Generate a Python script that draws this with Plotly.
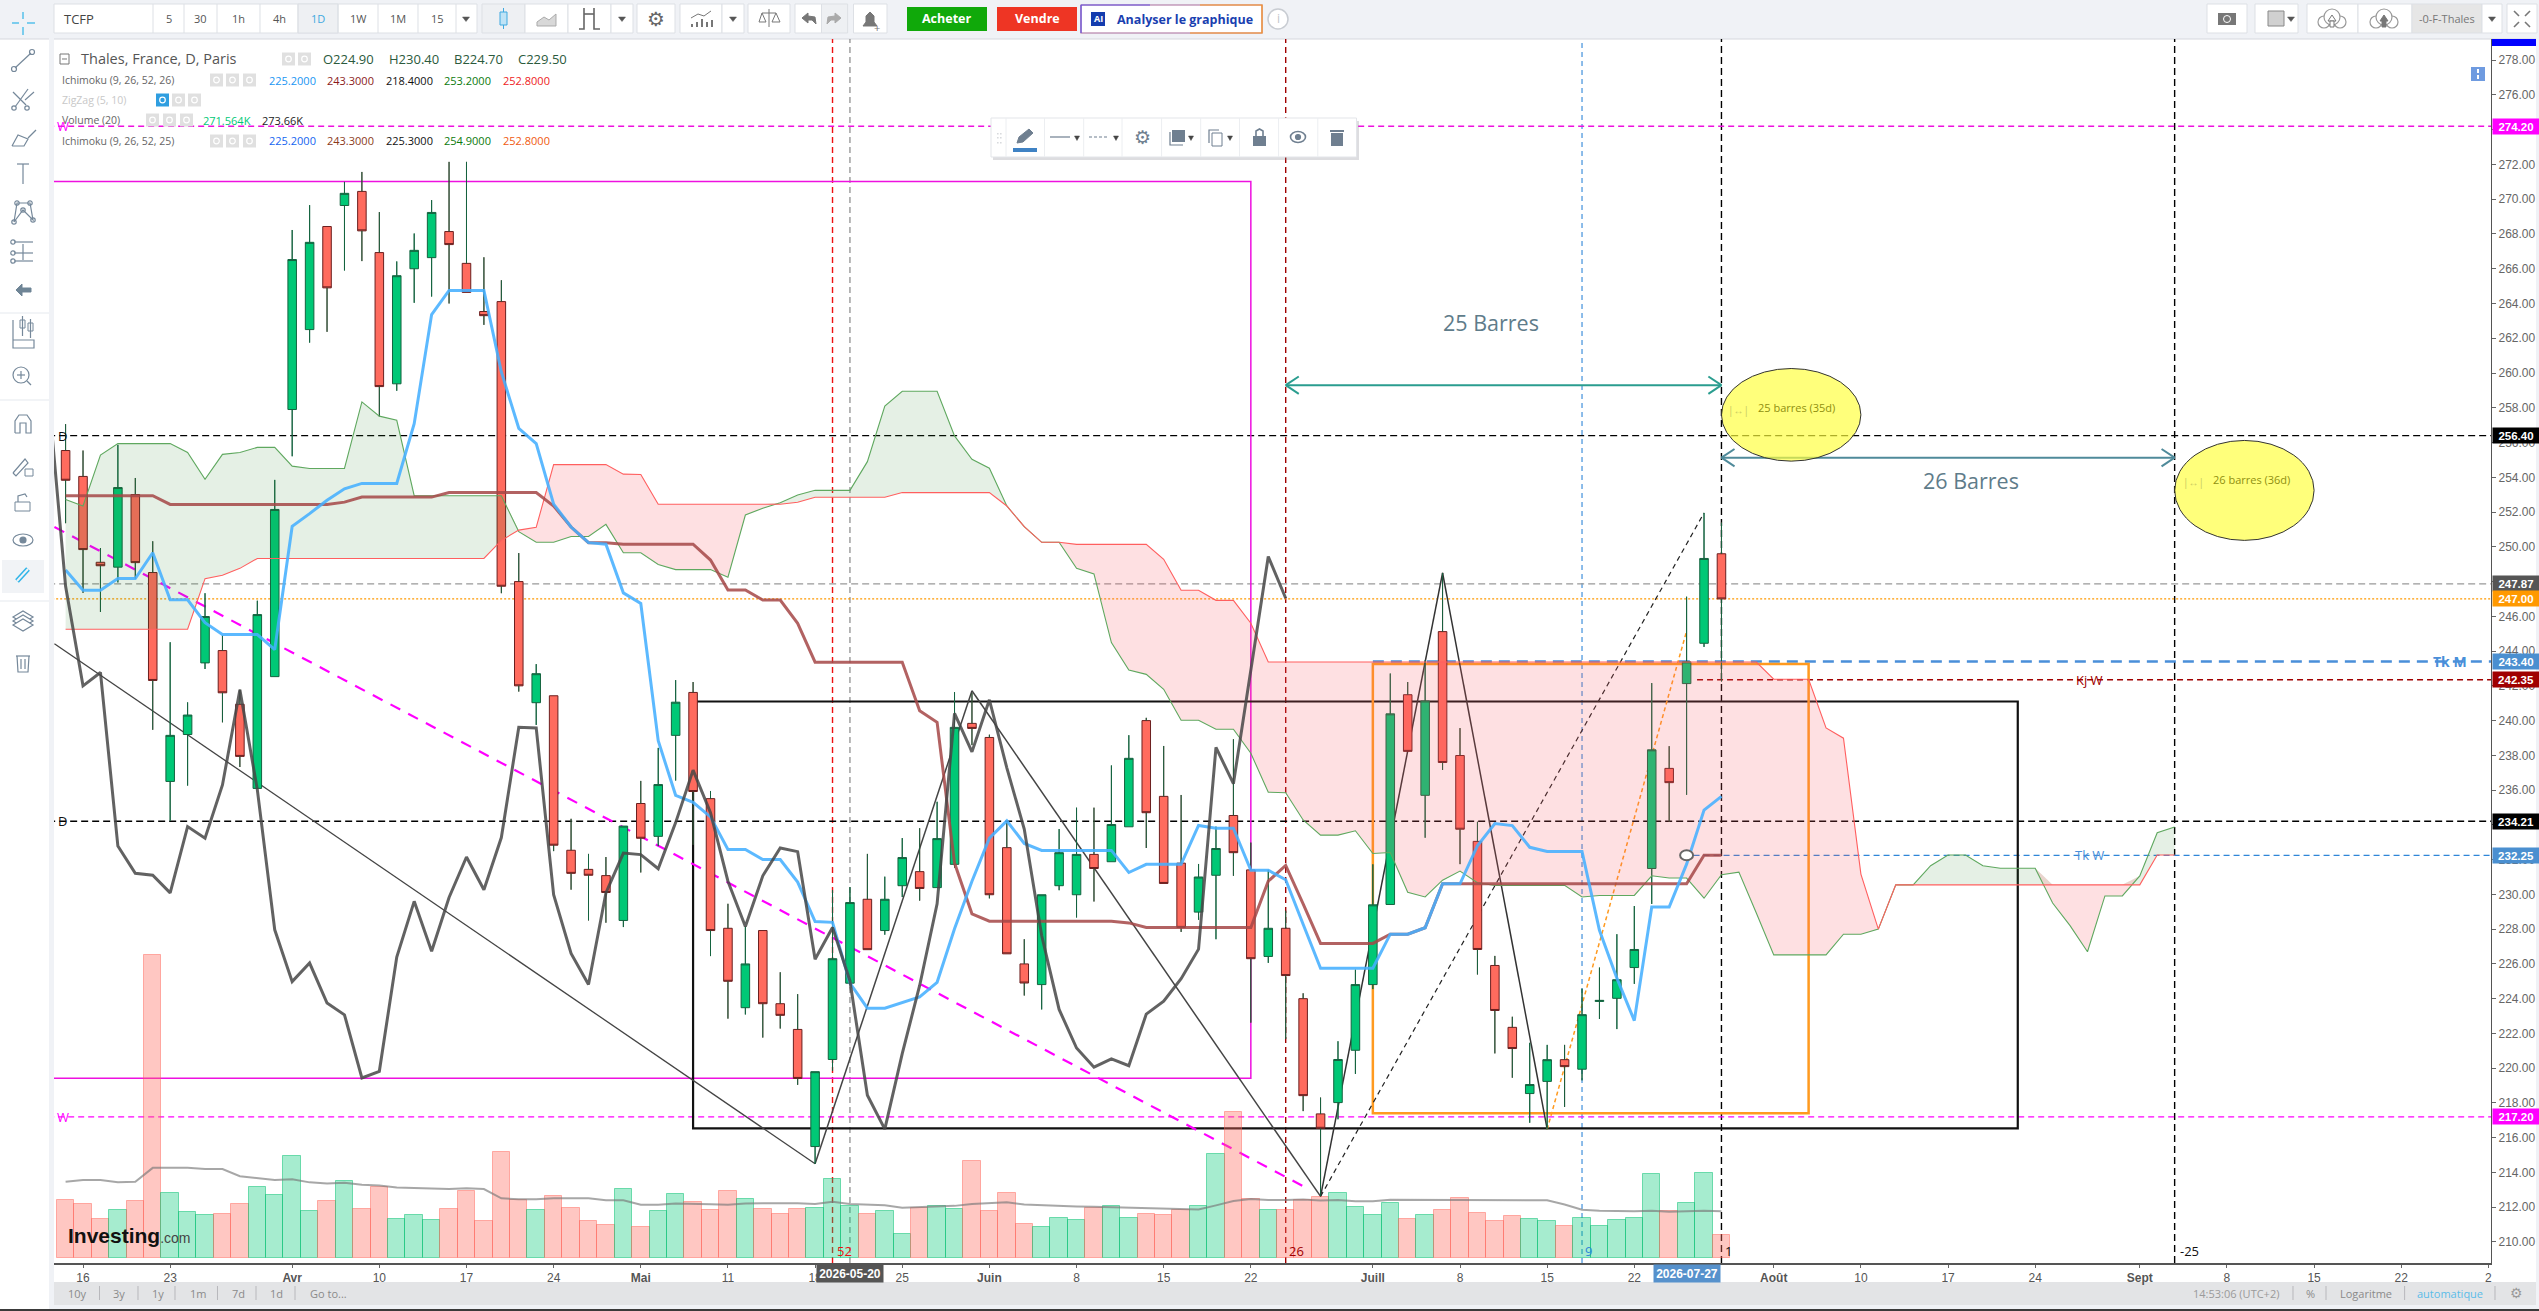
#!/usr/bin/env python3
# -*- coding: utf-8 -*-
import plotly.graph_objects as go

W = 2539
H = 1311
FONT = "Open Sans"
AXFONT = "Liberation Sans"

# ---- daily candles, one per session, from 2026-03-13
opens = [255.54, 254.05, 249.11, 248.83, 253.01, 248.52, 236.5, 239.2, 243.32, 244.03, 240.94, 236.1,
         242.53, 257.9, 262.5, 268.43, 269.64, 270.45, 266.93, 259.38, 266.0, 266.64, 268.14, 266.31,
         263.54, 264.11, 248.0, 241.03, 241.43, 232.54, 231.44, 231.08, 228.5, 235.23, 233.34, 239.15,
         241.62, 235.51, 228.05, 223.48, 227.92, 223.71, 222.23, 215.49, 220.5, 224.89, 229.72, 227.92,
         230.5, 231.31, 230.39, 231.73, 239.84, 239.03, 232.69, 226.0, 224.81, 230.5, 229.98, 232.3,
         231.88, 233.89, 240.0, 235.64, 231.8, 228.98, 231.1, 234.54, 231.41, 226.43, 228.05, 224.0,
         217.37, 218.02, 221.03, 224.81, 229.42, 241.49, 235.7, 245.12, 237.99, 233.05, 225.91, 222.35,
         218.54, 219.24, 220.49, 219.94, 223.84, 224.02, 225.79, 231.49, 237.25, 242.13, 244.45, 249.6]
highs = [257.06, 255.54, 249.93, 255.87, 253.96, 250.32, 244.51, 241.05, 247.33, 244.91, 241.78, 246.9,
         253.85, 268.23, 269.66, 268.43, 271.0, 271.57, 269.26, 266.42, 268.03, 269.95, 272.15, 272.15,
         266.66, 265.34, 249.64, 243.25, 241.43, 234.35, 232.33, 232.15, 233.93, 236.53, 238.43, 242.33,
         242.22, 235.95, 229.46, 228.15, 227.92, 225.52, 224.26, 219.8, 230.24, 230.42, 232.33, 231.02,
         233.24, 233.81, 235.33, 241.64, 241.59, 239.19, 234.15, 227.42, 229.98, 233.76, 234.99, 234.99,
         237.42, 239.16, 240.16, 238.54, 235.72, 231.75, 233.9, 238.93, 232.98, 231.41, 229.06, 224.31,
         218.31, 221.55, 225.67, 231.73, 242.71, 242.22, 243.47, 248.5, 239.57, 234.18, 226.46, 222.96,
         221.46, 221.34, 221.34, 224.57, 225.79, 227.71, 229.33, 242.16, 238.53, 247.13, 251.95, 251.4]
lows = [251.36, 247.35, 246.25, 247.95, 248.17, 239.47, 234.24, 236.26, 242.97, 239.9, 237.33, 236.1,
        242.53, 255.21, 261.75, 262.37, 265.9, 266.44, 257.5, 258.98, 264.04, 264.4, 264.0, 264.64,
        262.77, 247.33, 241.67, 239.75, 232.49, 230.27, 228.5, 228.37, 228.12, 231.26, 232.78, 236.55,
        232.85, 226.45, 222.85, 223.09, 221.76, 222.28, 219.04, 214.5, 219.85, 224.89, 226.82, 227.68,
        229.85, 229.64, 230.39, 231.54, 238.59, 229.77, 226.58, 224.18, 223.38, 230.24, 228.67, 229.59,
        231.88, 233.89, 232.67, 230.63, 227.84, 228.54, 227.42, 231.07, 222.62, 226.06, 221.68, 217.53,
        212.62, 217.06, 219.67, 224.55, 229.42, 238.23, 233.26, 237.16, 231.74, 225.39, 220.85, 219.45,
        216.86, 216.49, 217.77, 219.3, 222.83, 222.25, 224.85, 229.45, 234.18, 235.73, 244.24, 242.25]
closes = [253.83, 249.84, 248.91, 253.41, 249.09, 242.31, 239.15, 240.32, 245.99, 241.6, 237.94, 246.1,
          252.15, 266.53, 267.52, 264.9, 270.34, 268.18, 259.22, 265.6, 267.06, 269.24, 267.39, 264.64,
          263.3, 247.73, 242.0, 242.7, 232.83, 231.21, 231.1, 230.11, 233.93, 233.23, 236.32, 241.06,
          235.92, 227.92, 225.0, 226.0, 223.71, 223.04, 219.41, 219.8, 226.3, 229.53, 226.82, 229.72,
          232.12, 230.34, 233.21, 239.61, 239.55, 229.98, 226.58, 224.9, 229.98, 232.4, 232.3, 231.49,
          234.02, 237.83, 234.7, 230.63, 228.1, 231.0, 232.64, 232.4, 226.3, 228.05, 225.33, 218.42,
          216.54, 220.5, 224.81, 229.4, 240.39, 238.23, 241.13, 237.59, 233.75, 226.83, 223.32, 221.13,
          219.06, 220.49, 220.09, 223.08, 223.9, 225.09, 226.83, 238.32, 236.43, 243.38, 249.33, 247.0]

# ---- ichimoku lines
tenkan = [248.67, 247.5, 247.5, 248.17, 248.17, 249.66, 246.95, 246.95, 245.63, 244.95, 244.95, 244.95,
          244.09, 251.18, 251.91, 252.68, 253.34, 253.65, 253.65, 253.65, 257.08, 263.36, 264.75, 264.75,
          264.75, 260.06, 256.82, 255.94, 252.46, 251.14, 250.24, 250.15, 247.35, 246.74, 238.84, 235.7,
          235.3, 234.46, 232.59, 232.59, 232.01, 232.01, 230.71, 228.44, 228.39, 224.89, 223.45, 223.45,
          223.79, 224.1, 224.94, 228.02, 230.76, 233.24, 234.23, 232.93, 232.53, 232.53, 232.53, 232.53,
          232.53, 231.26, 231.73, 231.73, 231.73, 233.97, 233.81, 233.81, 231.39, 231.39, 230.84, 228.28,
          225.75, 225.75, 225.75, 225.75, 227.71, 227.71, 228.08, 230.61, 230.61, 232.8, 234.08, 233.96,
          232.71, 232.47, 232.47, 232.47, 227.93, 225.18, 222.74, 229.27, 229.27, 231.74, 234.85, 235.64]
kijun = [252.94, 252.94, 252.94, 252.94, 252.94, 252.94, 252.44, 252.44, 252.44, 252.44, 252.44, 252.44,
         252.44, 252.44, 252.44, 252.44, 252.57, 252.86, 252.86, 252.86, 252.86, 252.86, 253.12, 253.12,
         253.12, 253.12, 253.12, 253.12, 252.35, 251.14, 250.24, 250.24, 250.15, 250.15, 250.15, 250.15,
         250.15, 249.24, 247.52, 247.52, 246.94, 246.94, 245.6, 243.36, 243.36, 243.36, 243.36, 243.36,
         243.36, 240.57, 239.9, 231.8, 228.88, 228.46, 228.46, 228.46, 228.46, 228.46, 228.46, 228.46,
         228.46, 228.36, 228.1, 228.1, 228.1, 228.1, 228.1, 228.1, 228.1, 230.76, 231.67, 229.46,
         227.18, 227.18, 227.18, 227.18, 227.71, 227.71, 228.08, 230.61, 230.61, 230.61, 230.61, 230.61,
         230.61, 230.61, 230.61, 230.61, 230.61, 230.61, 230.61, 230.61, 230.61, 230.61, 232.25, 232.25]
senkou_a = [252.72, 252.35, 255.28, 255.94, 255.94, 255.94, 255.94, 255.43, 253.89, 255.32, 255.43, 255.72,
            255.72, 254.64, 254.51, 254.51, 254.51, 258.34, 257.52, 257.28, 252.94, 252.94, 252.94, 252.94,
            252.94, 252.94, 250.87, 250.26, 250.26, 250.59, 250.59, 251.29, 249.66, 249.66, 248.98, 248.69,
            248.69, 248.69, 248.25, 251.83, 252.22, 252.54, 252.98, 253.25, 253.25, 253.25, 254.9, 258.1,
            258.95, 258.95, 258.95, 256.38, 255.04, 254.52, 252.35, 251.16, 250.26, 250.26, 248.76, 248.44,
            244.49, 242.91, 242.66, 241.8, 240.02, 240.02, 239.5, 239.5, 238.12, 235.88, 235.85, 234.28,
            233.41, 233.41, 233.66, 232.35, 232.41, 230.12, 229.85, 230.82, 231.34, 230.67, 230.52, 230.52,
            230.52, 230.52, 230.52, 229.85, 229.94, 229.94, 229.94, 231.07, 230.94, 230.94, 229.78, 231.13,
            231.28, 228.93, 226.52, 226.52, 226.52, 226.52, 227.71, 227.71, 228.0, 230.55, 230.55, 231.65,
            232.27, 232.27, 231.65, 231.5, 231.5, 231.5, 229.5, 228.2, 226.7, 229.91, 229.91, 231.06,
            233.55, 233.88]
senkou_b = [245.26, 245.26, 245.26, 245.26, 245.26, 245.26, 245.26, 245.26, 248.17, 248.36, 248.76, 249.33,
            249.33, 249.33, 249.33, 249.33, 249.33, 249.33, 249.33, 249.33, 249.33, 249.33, 249.33, 249.33,
            249.33, 250.37, 250.96, 251.12, 254.73, 254.73, 254.73, 254.73, 254.18, 254.16, 252.45, 252.45,
            252.45, 252.45, 252.45, 252.45, 252.45, 252.45, 252.56, 252.85, 252.85, 252.85, 252.85, 252.85,
            253.12, 253.12, 253.12, 253.12, 253.12, 253.12, 252.35, 251.16, 250.26, 250.26, 250.14, 250.14,
            250.14, 250.14, 250.14, 249.28, 247.5, 247.5, 246.92, 246.92, 245.6, 243.37, 243.37, 243.37,
            243.37, 243.37, 243.37, 243.37, 243.37, 243.37, 243.37, 243.37, 243.37, 243.37, 243.37, 243.37,
            243.37, 243.37, 243.37, 243.37, 243.37, 243.37, 243.37, 243.37, 243.37, 243.37, 243.37, 243.37,
            243.37, 243.37, 242.38, 242.38, 242.38, 239.58, 238.99, 231.17, 228.0, 230.55, 230.55, 230.55,
            230.55, 230.55, 230.55, 230.55, 230.55, 230.55, 230.55, 230.55, 230.55, 230.55, 230.55, 230.55,
            232.27, 232.27]
# chikou starts one bar before the first candle
chikou = [259.0, 247.73, 242.0, 242.77, 232.78, 231.21, 231.1, 230.09, 233.9, 233.23, 236.3, 241.78, 236.03,
          227.96, 224.98, 226.05, 223.75, 223.07, 219.44, 219.82, 226.39, 229.6, 226.73, 229.82, 232.15,
          230.27, 233.27, 239.62, 239.58, 229.98, 226.6, 224.82, 230.09, 232.38, 232.29, 231.48, 234.13,
          237.15, 234.7, 230.76, 228.15, 231.07, 232.67, 232.46, 226.27, 228.1, 225.02, 218.44, 216.49,
          220.84, 224.76, 229.46, 240.42, 238.2, 241.2, 237.28, 233.76, 227.63, 223.38, 221.16, 220.06,
          220.53, 220.14, 223.11, 223.85, 225.15, 226.85, 238.46, 236.37, 242.9, 249.44, 247.04]

# ---- volume in thousands
volumes = [343, 316, 227, 279, 332, 1779, 380, 272, 250, 261, 316, 414, 369, 598, 275, 332, 451, 286, 417, 227,
           250, 222, 286, 392, 215, 621, 343, 279, 362, 291, 215, 192, 403, 181, 275, 373, 327, 282, 391, 349,
           285, 256, 285, 295, 466, 306, 261, 274, 138, 295, 303, 290, 572, 274, 383, 202, 184, 237, 221, 295,
           303, 232, 256, 250, 282, 303, 612, 855, 349, 280, 280, 338, 361, 379, 302, 255, 320, 230, 255, 280,
           355, 267, 215, 249, 227, 215, 190, 236, 190, 221, 236, 491, 274, 320, 501, 134]
volume_ma = [448, 458, 458, 444, 448, 529, 529, 529, 522, 522, 480, 469, 458, 462, 444, 437, 442, 430, 426, 414,
             410, 405, 405, 410, 405, 350, 345, 345, 350, 350, 350, 339, 339, 313, 313, 320, 316, 316, 313, 320,
             322, 322, 322, 317, 330, 317, 311, 309, 295, 298, 301, 306, 317, 322, 327, 314, 309, 306, 303, 301,
             298, 298, 295, 290, 285, 285, 309, 335, 346, 341, 341, 343, 338, 341, 333, 333, 342, 342, 342, 342,
             342, 342, 342, 342, 342, 339, 314, 283, 277, 274, 274, 277, 271, 274, 277, 274]

# ---- axis labels
tick_bars = [1, 6, 13, 18, 23, 28, 33, 38, 43, 48, 53, 58, 63, 68, 75, 80, 85, 90, 98, 103, 108, 113, 119, 124,
             129, 134, 139]
tick_labels = ["16", "23", "<b>Avr</b>", "10", "17", "24", "<b>Mai</b>", "11", "18", "25", "<b>Juin</b>", "8", "15",
               "22", "<b>Juill</b>", "8", "15", "22", "<b>Août</b>", "10", "17", "24", "<b>Sept</b>", "8", "15", "22",
               "2"]

# price tags on the right hand scale
tag_prices = [274.20, 256.40, 247.87, 247.00, 243.40, 242.35, 234.21, 232.25, 217.20]
tag_colors = ["#ff00ff", "#000000", "#555555", "#ff9900", "#4a8fd0", "#a00000", "#000000", "#4a8fd0", "#ff00ff"]

bars = list(range(len(opens)))
cloud_bars = list(range(len(senkou_a)))
cloud_top = [max(a, b) for a, b in zip(senkou_a, senkou_b)]


def fx(p):
    return p / W


def fy(p):
    return 1 - p / H


shapes = []
notes = []


# ---- small drawing helpers, all in screen pixels
def box(x0, y0, x1, y1, fill="#ffffff", line=None, w=1, layer="above"):
    shapes.append(dict(type="rect", xref="paper", yref="paper", x0=fx(x0), x1=fx(x1), y0=fy(y0), y1=fy(y1),
                       fillcolor=fill, line=dict(color=line or "rgba(0,0,0,0)", width=w if line else 0), layer=layer))


def poly(pts, color="#75889a", w=1.2, fill=None, close=False, layer="above"):
    d = "M " + " L ".join("%.5f %.5f" % (fx(x), fy(y)) for x, y in pts) + (" Z" if close else "")
    shapes.append(dict(type="path", xref="paper", yref="paper", path=d, fillcolor=fill or "rgba(0,0,0,0)",
                       line=dict(color=color, width=w), layer=layer))


def circ(cx, cy, rx, ry=None, color="#75889a", w=1.2, fill=None):
    ry = ry or rx
    shapes.append(dict(type="circle", xref="paper", yref="paper", x0=fx(cx - rx), x1=fx(cx + rx), y0=fy(cy - ry),
                       y1=fy(cy + ry), fillcolor=fill or "rgba(0,0,0,0)", line=dict(color=color, width=w)))


def txt(x, y, text, size=12, color="#555555", anchor="left", family=FONT):
    notes.append(dict(xref="paper", yref="paper", x=fx(x), y=fy(y), text=text, showarrow=False, xanchor=anchor,
                      yanchor="middle", font=dict(size=size, color=color, family=family)))


def btn(x0, x1, text="", color="#666666", fill="#ffffff", size=12):
    box(x0, 4, x1, 33, fill, "#dde0e5")
    if text:
        txt((x0 + x1) / 2, 18.5, text, size, color, "center")


def caret(cx, cy, color="#555555", s=3.5):
    poly([(cx - s, cy - 2), (cx + s, cy - 2), (cx, cy + 2.5)], color, 0.5, color, True)


# ---- chart drawings, in bar / price units, kept under the candles
def seg(x0, y0, x1, y1, color, w=1.0, dash="solid", layer="below"):
    shapes.append(dict(type="line", xref="x", yref="y2", x0=x0, x1=x1, y0=y0, y1=y1, layer=layer,
                       line=dict(color=color, width=w, dash=dash)))


def frame(x0, y0, x1, y1, color, w):
    shapes.append(dict(type="rect", xref="x", yref="y2", x0=x0, x1=x1, y0=y0, y1=y1, layer="below",
                       line=dict(color=color, width=w)))


def vline(x, color, dash, w=1.2):
    shapes.append(dict(type="line", xref="x", yref="paper", x0=x, x1=x, y0=fy(1263), y1=fy(39), layer="below",
                       line=dict(color=color, width=w, dash=dash)))


def hline(y, color, dash, w=1.2, start=-1):
    seg(start, y, 140, y, color, w, dash)


def span(x0, x1, y, color):
    seg(x0, y, x1, y, color, 2, layer="above")
    for x, d in ((x0, 0.75), (x1, -0.75)):
        seg(x, y, x + d, y + 0.5, color, 2, layer="above")
        seg(x, y, x + d, y - 0.5, color, 2, layer="above")


def yellow(x0, y0, x1, y1):
    shapes.append(dict(type="circle", xref="x", yref="y2", x0=x0, x1=x1, y0=y0, y1=y1,
                       fillcolor="rgba(255,255,60,0.68)", line=dict(color="#333333", width=1)))


def chart_note(x, y, text, size, color, anchor="center", bold=False):
    notes.append(dict(xref="x", yref="y2", x=x, y=y, text="<b>%s</b>" % text if bold else text, showarrow=False,
                      xanchor=anchor, yanchor="middle", font=dict(size=size, color=color, family=FONT)))


# ---- page furniture
box(0, 0, W, 39, "#f0f2f6", layer="below")
box(0, 38.5, W, 39.5, "#d5d8de", layer="below")
box(49, 0, 54, H, "#f0f2f6", layer="below")
box(2536, 0, W, H, "#f0f2f6", layer="below")
box(54, 1282, 2536, 1305, "#e3e4e6", layer="below")
box(49, 1305, W, 1309, "#f0f2f6", layer="below")
box(0, 1309, W, H, "#3a3a3a", layer="below")

# top toolbar, left group
box(54, 4, 477, 33, "#ffffff", "#dde0e5")
txt(62, 18.5, "TCFP", 13, "#444444")
toolbar_x = [153, 184, 217, 260, 298, 338, 378, 418, 456, 477]
toolbar_t = ["5", "30", "1h", "4h", "1D", "1W", "1M", "15", ""]
box(298, 4, 338, 33, "#eef0f3", "#dde0e5")
for i, t in enumerate(toolbar_t):
    poly([(toolbar_x[i], 4), (toolbar_x[i], 33)], "#dde0e5", 1)
    txt((toolbar_x[i] + toolbar_x[i + 1]) / 2, 18.5, t, 11, "#3fa9e0" if t == "1D" else "#555555", "center")
caret(466, 19)
btn(482, 525, fill="#eef0f3")
btn(525, 568)
btn(568, 611)
btn(611, 633)
caret(622, 19)
poly([(503.5, 8), (503.5, 29)], "#3fa9e0", 1)
box(500, 12, 507, 25, "#bfe3f6", "#3fa9e0")
poly([(537, 26), (537, 22), (544, 17), (549, 20), (556, 14), (556, 26)], "#aaaaaa", 1, "#d8d8d8", True)
poly([(584, 8), (584, 29), (579, 29)], "#666666", 1.6)
poly([(594, 8), (594, 29), (600, 29)], "#666666", 1.6)
poly([(584, 14), (594, 14)], "#666666", 1.6)
btn(637, 675)
txt(656, 18.5, "⚙", 20, "#666666", "center", "DejaVu Sans")
btn(680, 722)
btn(722, 744)
caret(733, 19)
for bx, by in ((692, 24), (697, 22), (702, 19), (707, 22), (712, 20)):
    poly([(bx, 27), (bx, by)], "#777777", 2)
poly([(691, 18), (698, 14), (704, 16), (711, 11)], "#777777", 1)
btn(748, 790)
poly([(769, 9), (769, 27)], "#777777", 1)
poly([(762, 13), (776, 13)], "#777777", 1)
poly([(759, 22), (762, 13), (766, 22), (759, 22)], "#777777", 1)
poly([(772, 22), (776, 13), (780, 22), (772, 22)], "#777777", 1)
btn(795, 821.5)
btn(821.5, 847.6, fill="#eef0f3")
poly([(802, 18), (808, 13), (808, 16), (815, 17), (816, 24), (812, 20), (808, 20), (808, 23)], "#777777", 1, "#777777", True)
poly([(841, 18), (835, 13), (835, 16), (828, 17), (827, 24), (831, 20), (835, 20), (835, 23)], "#aaaaaa", 1, "#aaaaaa", True)
btn(853.5, 887)
poly([(863, 26), (866, 22), (866, 16), (870, 12), (874, 16), (874, 22), (877, 26)], "#777777", 1, "#777777", True)
txt(877, 27, "+", 11, "#777777", "center")

box(907, 7, 987, 31, "#10a90a")
txt(947, 19, "<b>Acheter</b>", 12.5, "#ffffff", "center")
box(997, 7, 1077, 31, "#ee3524")
txt(1037, 19, "<b>Vendre</b>", 12.5, "#ffffff", "center")
box(1081, 5, 1262, 33, "#ffffff", "#a86a9a", 1.2)
poly([(1081, 5), (1150, 5)], "#6a55e0", 1.2)
poly([(1081, 5), (1081, 33)], "#6a55e0", 1.2)
poly([(1190, 33), (1262, 33), (1262, 5), (1200, 5)], "#ff9a1f", 1.2)
box(1091, 12, 1105, 26, "#143cae")
txt(1098, 19, "<b>AI</b>", 9, "#ffffff", "center")
txt(1115, 19.5, "<b>Analyser le graphique</b>", 12.5, "#1a3fb0")
circ(1278, 19, 10, color="#c8ccd2", w=1.5, fill="#ffffff")
txt(1278, 19, "i", 12, "#c0c4ca", "center")

# top toolbar, right group
btn(2207, 2247)
box(2218, 13, 2236, 25, "#777777")
circ(2227, 19, 3.5, color="#ffffff", w=1, fill="#777777")
btn(2255, 2298)
box(2268, 11, 2284, 26, "#d0d0d0", "#888888")
caret(2291, 19)
btn(2307, 2358)
btn(2358, 2412)
btn(2412, 2482, "-0-F-Thales", "#777777", "#e6e6e6", 11)
btn(2482, 2502)
caret(2492, 19)
btn(2507, 2537)
for cloud_x, cloud_fill in ((2332, "#ffffff"), (2384, "#777777")):
    circ(cloud_x - 8, 22, 6, color="#999999", fill="#ffffff")
    circ(cloud_x + 8, 22, 6, color="#999999", fill="#ffffff")
    circ(cloud_x, 17, 8, color="#999999", fill="#ffffff")
    poly([(cloud_x - 4, 21), (cloud_x, 15), (cloud_x + 4, 21)], "#777777", 1, cloud_fill, True)
    poly([(cloud_x - 2, 21), (cloud_x + 2, 21), (cloud_x + 2, 27), (cloud_x - 2, 27)], "#777777", 1, cloud_fill, True)
for sx, sy in ((-1, -1), (1, -1), (-1, 1), (1, 1)):
    poly([(2522 + sx * 3, 19 + sy * 3), (2522 + sx * 8, 19 + sy * 8)], "#777777", 1.6)

# left tool column
poly([(12, 23), (19, 23)], "#2fb4e8")
poly([(27, 23), (35, 23)], "#2fb4e8")
poly([(23, 12), (23, 19)], "#2fb4e8")
poly([(23, 27), (23, 35)], "#2fb4e8")
poly([(15, 68), (31, 53)])
circ(14, 69, 2.5)
circ(32, 52, 2.5)
poly([(15, 107), (28, 89)])
poly([(13, 92), (26, 105)])
poly([(25, 100), (34, 92)])
circ(14, 108, 2.2)
circ(27, 108, 2.2)
poly([(12, 146), (18, 135), (28, 139), (24, 146), (12, 146)])
poly([(28, 138), (36, 130)])
poly([(17, 164), (29, 164)])
poly([(23, 164), (23, 184)])
poly([(14, 222), (17, 203), (30, 203), (33, 220), (23, 210), (14, 222)])
for nx, ny in ((14, 222), (17, 203), (30, 203), (33, 220), (23, 210)):
    circ(nx, ny, 2.2)
for ny in (242, 253, 261):
    poly([(14, ny), (33, ny)])
    circ(13, ny, 2.2)
poly([(23, 244), (23, 260)])
poly([(16, 290), (22, 284), (22, 288), (31, 288), (31, 292), (22, 292), (22, 296)], "#6f8596", 1, "#6f8596", True)
poly([(13, 320), (13, 348), (34, 348), (34, 340), (13, 340)])
box(20, 320, 25, 328, "#ffffff", "#75889a")
box(28, 323, 33, 331, "#ffffff", "#75889a")
poly([(22.5, 316), (22.5, 336)])
poly([(30.5, 319), (30.5, 338)])
circ(21, 375, 8)
poly([(27, 381), (31, 385)])
poly([(17, 375), (25, 375)])
poly([(21, 371), (21, 379)])
poly([(15, 433), (15, 421), (19, 415), (27, 415), (31, 421), (31, 433), (26, 433), (26, 423), (20, 423), (20, 433), (15, 433)])
poly([(13, 473), (25, 459), (28, 463), (16, 476), (13, 473)])
box(25, 469, 33, 476, "#ffffff", "#75889a")
box(15, 502, 30, 511, "#ffffff", "#75889a")
poly([(18, 502), (18, 496), (25, 494), (27, 497)])
circ(23, 540, 10, 6)
circ(23, 540, 3, fill="#75889a")
for sy in (313, 400):
    poly([(0, sy), (49, sy)], "#e5e9ee", 1)
box(2, 560, 44, 593, "#f1f3f6")
poly([(17, 581), (28, 569)], "#2fb4e8", 5)
poly([(17, 581), (28, 569)], "#f1f3f6", 2)
poly([(0, 601), (49, 601)], "#e5e9ee", 1)
for ly in (617, 621, 625):
    poly([(13, ly), (23, ly - 6), (33, ly), (23, ly + 6), (13, ly)], fill="#ffffff", close=True)
poly([(16, 656), (30, 656)])
poly([(17, 656), (18, 672), (28, 672), (29, 656)])
poly([(21, 659), (21, 669)])
poly([(25, 659), (25, 669)])

# floating drawing toolbar
box(993, 121, 1359, 160, "rgba(120,120,130,0.25)")
box(991, 118, 1356.5, 157, "#ffffff", "#e3e5e9")
for sep_x in (1006, 1044.5, 1083.7, 1122, 1161.6, 1200.7, 1239.5, 1278.6, 1317.8):
    poly([(sep_x, 118), (sep_x, 157)], "#eceef1", 1)
for dx in (997, 1000):
    for dy in (133, 137, 142):
        box(dx, dy, dx + 1.6, dy + 1.6, "#d8dadd")
poly([(1017, 143), (1019, 137), (1029, 129), (1033, 133), (1023, 142)], "#6f7f90", 1, "#6f7f90", True)
box(1013, 148, 1037, 152, "#3f82c4")
poly([(1050, 137), (1070, 137)], "#6f7f90", 1.2)
caret(1077, 138, "#444444", 2.5)
poly([(1089, 137), (1109, 137)], "#6f7f90", 1.2)
shapes[-1]["line"]["dash"] = "3px,2px"
caret(1116, 138, "#444444", 2.5)
txt(1142, 137.5, "⚙", 19, "#6f7f90", "center", "DejaVu Sans")
box(1172, 130, 1185, 142, "#6f7f90")
poly([(1170, 132), (1170, 145), (1183, 145)], "#6f7f90", 1.2)
caret(1191, 138, "#444444", 2.5)
box(1212, 133, 1222, 146, "#ffffff", "#6f7f90")
poly([(1209, 143), (1209, 130), (1219, 130)], "#6f7f90", 1.2)
caret(1230, 138, "#444444", 2.5)
box(1253, 136, 1266, 146, "#6f7f90")
poly([(1256, 136), (1256, 131), (1259.5, 129), (1263, 131), (1263, 136)], "#6f7f90", 1.6)
circ(1298, 137, 7.5, 5.5, "#6f7f90", 1.6)
circ(1298, 137, 2.5, color="#6f7f90", fill="#6f7f90")
box(1331, 133, 1343, 146, "#6f7f90")
box(1330, 130, 1344, 132, "#6f7f90")

# legend block
box(60, 54, 69, 64, "#ffffff", "#777777")
poly([(62, 59), (67, 59)], "#777777", 1)
txt(79, 59, "Thales, France, D, Paris", 14.5, "#555555")
for vx, vt in ((321, "O224.90"), (387, "H230.40"), (452, "B224.70"), (516, "C229.50")):
    txt(vx, 59, vt, 13, "#2b5a3c")
txt(60, 80, "Ichimoku (9, 26, 52, 26)", 10.5, "#666666")
for vx, vt, vc in ((267, "225.2000", "#2196f3"), (325, "243.3000", "#8b1a1a"), (384, "218.4000", "#111111"),
                   (442, "253.2000", "#0b7a0b"), (501, "252.8000", "#ee1c1c")):
    txt(vx, 80, vt, 11, vc)
txt(60, 100, "ZigZag (5, 10)", 10.5, "#c8c8c8")
txt(60, 120, "Volume (20)", 10.5, "#666666")
txt(201, 120, "271.564K", 11, "#00c876")
txt(260, 120, "273.66K", 11, "#222222")
txt(60, 141, "Ichimoku (9, 26, 52, 25)", 10.5, "#666666")
for vx, vt, vc in ((267, "225.2000", "#1565f0"), (325, "243.3000", "#8b3a1a"), (384, "225.3000", "#111111"),
                   (442, "254.9000", "#0b7a0b"), (501, "252.8000", "#f05a10")):
    txt(vx, 141, vt, 11, vc)
for bx_y, bx_xs in ((59, (282, 298)), (80, (210, 226, 243)), (100, (156, 172, 188)), (120, (146, 163, 180)),
                    (141, (210, 226, 243))):
    for n, bx_x in enumerate(bx_xs):
        box(bx_x, bx_y - 6.5, bx_x + 13, bx_y + 6.5, "#2f9ee0" if bx_y == 100 and n == 0 else "#e0e0e0")
        circ(bx_x + 6.5, bx_y, 2.8, color="#ffffff", w=1.2)

# bottom bar
for bx, bt in ((77, "10y"), (119, "3y"), (157.5, "1y"), (198, "1m"), (238, "7d"), (276, "1d"), (328, "Go to...")):
    txt(bx, 1293, bt, 11, "#8a8a8a", "center")
for bx in (99.5, 138, 175, 217.5, 256, 295, 2293, 2326, 2404.6, 2495):
    poly([(bx, 1286), (bx, 1300)], "#b8b8bc", 1)
txt(2235.6, 1293, "14:53:06 (UTC+2)", 11, "#9a9a9a", "center")
txt(2310, 1293, "%", 11, "#8a8a8a", "center")
txt(2365.5, 1293, "Logaritme", 11, "#8a8a8a", "center")
txt(2450, 1293, "automatique", 11, "#5bbce8", "center")
txt(2516, 1293, "⚙", 14, "#9a9a9a", "center", "DejaVu Sans")

# small collapse button and clipped top tag
box(2471, 67, 2485, 81, "#6f9be0")
poly([(2478, 69), (2478, 73)], "#ffffff", 2)
poly([(2478, 75), (2478, 79)], "#ffffff", 2)
box(2492, 39, 2536, 46, "#0000ff")

# ---- horizontal levels
hline(274.20, "#ee10e0", "6px,4px", 1.4)
hline(256.40, "#000000", "7px,4px", 1.4)
hline(247.87, "#999999", "7px,4px", 1.1)
hline(247.00, "#ff9900", "2px,2px", 1.2)
hline(243.40, "#4a8fd9", "11px,7px", 2.6, 75)
hline(242.35, "#a00000", "6px,4px", 1.4, 93.6)
hline(234.21, "#000000", "7px,4px", 1.4)
hline(232.25, "#2f86d8", "6px,4px", 1.3, 93.4)
hline(217.20, "#ff00ff", "6px,4px", 1.2)

# ---- vertical counters
vline(44, "#ee1111", "6px,4px", 1.4)
vline(45, "#888888", "6px,4px", 1.2)
vline(70, "#a00000", "6px,4px", 1.4)
vline(87, "#2f86d8", "5px,4px", 1.1)
vline(95, "#000000", "7px,4px", 1.4)
vline(121, "#000000", "7px,4px", 1.4)

# ---- boxes
frame(-5, 219.42, 68, 271.02, "#ee10e0", 1.5)
frame(36, 216.54, 112, 241.1, "#111111", 2.2)
frame(75, 217.41, 100, 243.26, "#ff9a1f", 2.5)

# ---- trend lines and zigzag
seg(-0.64, 244.42, 43, 214.5, "#444444", 1.3)
seg(-0.64, 251.14, 71.4, 213.0, "#ff00ff", 2.2, "11px,9px")
seg(43, 214.5, 52, 241.72, "#444444", 1.5)
seg(52, 241.72, 72, 212.62, "#444444", 1.5)
seg(72, 212.62, 79, 248.5, "#333333", 1.5)
seg(79, 248.5, 85, 216.49, "#333333", 1.5)
seg(72, 212.62, 94, 251.95, "#222222", 1.2, "5px,4px")
seg(85, 216.49, 93, 245.15, "#ff9a1f", 1.5, "4px,3px")

# ---- bar count arrows and yellow notes
span(70, 95, 259.3, "#2a9d8f")
span(95, 121, 255.13, "#4f8a9a")
chart_note(81.8, 262.9, "25 Barres", 21.5, "#5f7c8a")
chart_note(109.3, 253.83, "26 Barres", 21.5, "#5f7c8a")
yellow(95, 254.93, 103, 260.26)
yellow(121, 250.37, 129, 256.12)
chart_note(99.3, 258.0, "25 barres (35d)", 11, "#8f8f10")
chart_note(125.4, 253.85, "26 barres (36d)", 11, "#8f8f10")
chart_note(96.0, 257.9, "|↔|", 10, "#c8c860")
chart_note(122.1, 253.75, "|↔|", 10, "#c8c860")

# ---- labels on the levels
notes.append(dict(xref="paper", yref="y2", x=fx(2469), y=243.4, text="<b>Tk M</b>", showarrow=False, xanchor="right",
                  font=dict(size=14, color="#4a8fd9", family=FONT)))
chart_note(116.1, 242.35, "Kj W", 13, "#a00000")
chart_note(116.1, 232.25, "Tk W", 13, "#4a8fd9")
chart_note(-0.15, 256.4, "D", 13, "#111111")
chart_note(-0.15, 234.21, "D", 13, "#111111")
chart_note(-0.15, 274.2, "W", 13, "#ff00ff")
chart_note(-0.15, 217.2, "W", 13, "#ff00ff")
shapes.append(dict(type="circle", xref="x", yref="y2", xsizemode="pixel", ysizemode="pixel", xanchor=93, yanchor=232.25,
                   x0=-6.5, x1=6.5, y0=-5, y1=5, fillcolor="#ffffff", line=dict(color="#666666", width=2)))

# counters at the foot of the vertical lines
for cx, ct, cc in ((844, "52", "#ee1111"), (1297, "26", "#a00000"), (1588.6, "9", "#2f86d8"), (1728.6, "1", "#111111"),
                   (2189, "-25", "#111111")):
    txt(cx, 1251, ct, 13, cc, "center")

# ---- price tags
for p, c in zip(tag_prices, tag_colors):
    notes.append(dict(xref="paper", yref="y2", x=fx(2492), y=p, xanchor="left", yanchor="middle", width=44, height=13,
                      align="center", text="<b>%.2f</b>" % p, bgcolor=c, showarrow=False, borderpad=1,
                      font=dict(size=11.5, color="#ffffff", family=AXFONT)))

# ---- crosshair dates on the time axis
for bar, label, c, bw in ((45, "2026-05-20", "#555555", 64), (93, "2026-07-27", "#5691cc", 64)):
    notes.append(dict(xref="x", yref="paper", x=bar, y=fy(1273), xanchor="center", yanchor="middle", width=bw, height=15,
                      align="center", text="<b>%s</b>" % label, bgcolor=c, showarrow=False, borderpad=1,
                      font=dict(size=12, color="#ffffff", family=AXFONT)))

# ---- watermark
txt(66, 1235, "<b>Investing</b><span style='font-size:14px;color:#444444'>.com</span>", 21, "#111111",
    family="Liberation Sans")

# ---- traces
vol_colors = ["rgba(0,200,117,0.35)" if c >= o else "rgba(255,107,94,0.38)" for o, c in zip(opens, closes)]
vol_lines = ["rgba(0,190,110,0.5)" if c >= o else "rgba(255,90,80,0.45)" for o, c in zip(opens, closes)]
fig = go.Figure()
fig.add_trace(go.Bar(x=bars, y=volumes, width=1, marker=dict(color=vol_colors, line=dict(color=vol_lines, width=1)),
                     yaxis="y", xaxis="x"))
fig.add_trace(go.Scatter(x=bars, y=volume_ma, mode="lines", yaxis="y",
                         line=dict(color="rgba(120,120,120,0.65)", width=2)))
fig.add_trace(go.Candlestick(x=bars, open=opens, high=highs, low=lows, close=closes, yaxis="y2", whiskerwidth=0,
                             increasing=dict(fillcolor="#00c876", line=dict(color="#14633f", width=1)),
                             decreasing=dict(fillcolor="#ff6b5e", line=dict(color="#6b1f1f", width=1))))

# every wick is dark green, whatever the body colour
wick_x = []
wick_y = []
for b, o, h, l, c in zip(bars, opens, highs, lows, closes):
    wick_x += [b, b, None, b, b, None]
    wick_y += [h, max(o, c), None, min(o, c), l, None]
fig.add_trace(go.Scatter(x=wick_x, y=wick_y, mode="lines", yaxis="y2", connectgaps=False,
                         line=dict(color="#14633f", width=1)))

# green cloud where A is on top, pink where B is on top
fig.add_trace(go.Scatter(x=cloud_bars, y=senkou_b, mode="lines", yaxis="y2", line=dict(width=0), showlegend=False))
fig.add_trace(go.Scatter(x=cloud_bars, y=cloud_top, mode="lines", yaxis="y2", line=dict(width=0), fill="tonexty",
                         fillcolor="rgba(40,130,40,0.12)"))
fig.add_trace(go.Scatter(x=cloud_bars, y=senkou_a, mode="lines", yaxis="y2", line=dict(width=0)))
fig.add_trace(go.Scatter(x=cloud_bars, y=cloud_top, mode="lines", yaxis="y2", line=dict(width=0), fill="tonexty",
                         fillcolor="rgba(250,90,100,0.19)"))
fig.add_trace(go.Scatter(x=cloud_bars, y=senkou_a, mode="lines", yaxis="y2", line=dict(color="#5fa85f", width=1.1)))
fig.add_trace(go.Scatter(x=cloud_bars, y=senkou_b, mode="lines", yaxis="y2", line=dict(color="#ff5f5f", width=1.1)))
fig.add_trace(go.Scatter(x=bars, y=kijun, mode="lines", yaxis="y2", line=dict(color="rgba(165,70,70,0.85)", width=3)))
fig.add_trace(go.Scatter(x=bars, y=tenkan, mode="lines", yaxis="y2",
                         line=dict(color="rgba(70,175,255,0.88)", width=3)))
fig.add_trace(go.Scatter(x=list(range(-1, len(chikou) - 1)), y=chikou, mode="lines", yaxis="y2",
                         line=dict(color="rgba(70,70,70,0.85)", width=3)))

fig.update_layout(
    width=W,
    height=H,
    margin=dict(l=0, r=0, t=0, b=0),
    autosize=False,
    paper_bgcolor="#ffffff",
    plot_bgcolor="#ffffff",
    showlegend=False,
    hovermode=False,
    boxgap=0.3,
    bargap=0,
    shapes=shapes,
    annotations=notes,
    xaxis=dict(domain=[fx(54), fx(2491)], range=[-0.665, 139.15], rangeslider=dict(visible=False), showgrid=False,
               zeroline=False, tickmode="array", tickvals=tick_bars, ticktext=tick_labels, ticks="outside", ticklen=3,
               tickcolor="#666666", showline=True, linecolor="#555555", linewidth=1.5,
               tickfont=dict(size=12, color="#555555", family=AXFONT)),
    yaxis=dict(domain=[fy(1263), fy(39)], range=[-29.35, 7155], visible=False, fixedrange=True),
    yaxis2=dict(domain=[fy(1263), fy(39)], range=[208.79, 279.22], overlaying="y", side="right", anchor="x",
                showgrid=False, zeroline=False, tick0=210, dtick=2, tickformat=".2f", ticks="outside", ticklen=4,
                tickcolor="#666666", showline=True, linecolor="#555555", linewidth=1.2,
                tickfont=dict(size=12, color="#666666", family=AXFONT)),
)

fig.write_html("out.html", config=dict(displayModeBar=False),
               post_script="document.body.style.margin='0';document.body.style.overflow='hidden';")
